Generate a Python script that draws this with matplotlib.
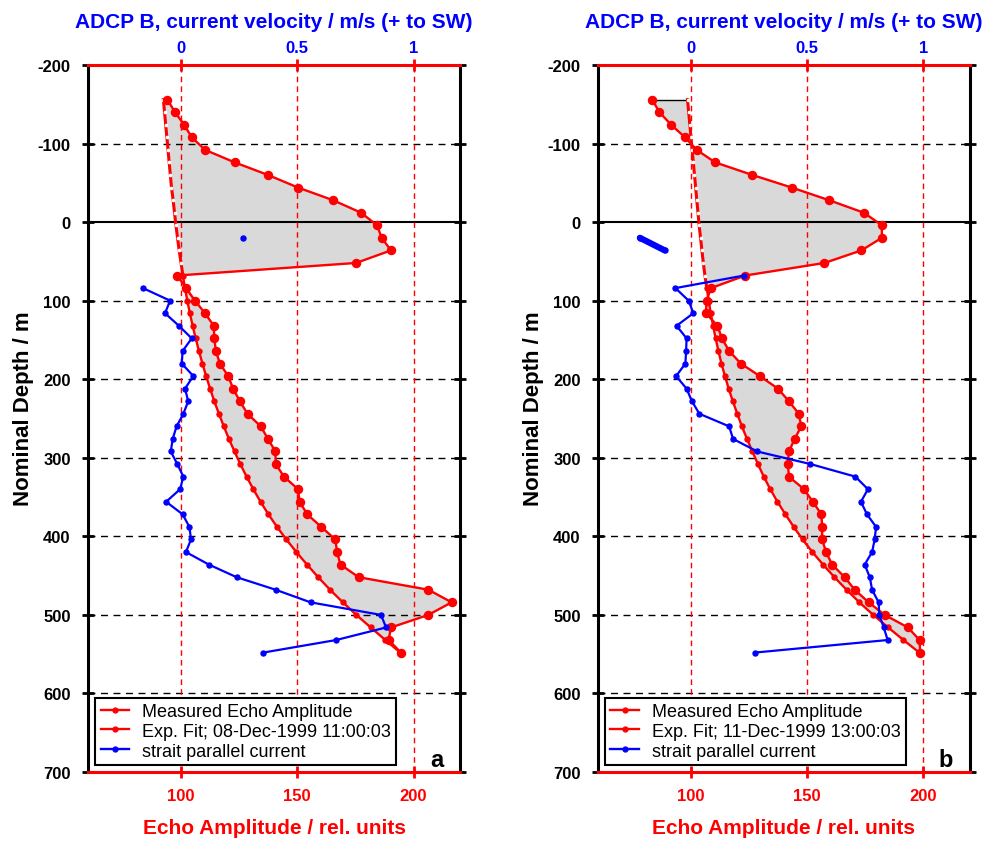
import matplotlib.pyplot as plt
from matplotlib.lines import Line2D

plt.rcParams['font.family'] = ['Liberation Sans', 'DejaVu Sans']
plt.rcParams['font.weight'] = 'bold'
plt.rcParams['axes.labelweight'] = 'bold'
plt.rcParams['axes.unicode_minus'] = False

nan = float('nan')

# depth bins / m
depth = [-156, -140, -124, -108, -92, -76, -60, -44, -28, -12,
         4, 20, 36, 52, 68, 84, 100, 116, 132, 148,
         164, 180, 196, 212, 228, 244, 260, 276, 292, 308,
         324, 340, 356, 372, 388, 404, 420, 436, 452, 468,
         484, 500, 516, 532, 548]

# panel a, 08-Dec-1999
amp_a = [94.1, 97.4, 101.3, 104.6, 110.3, 123.1, 137.4, 150.3, 165.3, 177.4,
         184.3, 186.3, 190.3, 175.3, 98.4, 102.1, 106.0, 110.3, 114.1, 114.3,
         115.0, 116.7, 120.3, 122.4, 125.3, 128.6, 134.3, 137.4, 140.6, 140.7,
         144.3, 150.3, 151.0, 154.3, 160.3, 166.4, 167.1, 168.6, 176.4, 206.4,
         216.4, 206.4, 190.3, 189.3, 194.6]
fit_a = [92.4, 92.9, 93.4, 93.9, 94.4, 94.9, 95.4, 95.9, 96.6, 97.2,
         97.8, 98.5, 99.2, 100.0, 100.8, 101.7, 102.7, 103.8, 105.0, 106.3,
         107.7, 109.2, 110.8, 112.5, 114.3, 116.3, 118.4, 120.6, 123.0, 125.5,
         128.2, 131.1, 134.2, 137.6, 141.3, 145.3, 149.6, 154.2, 159.0, 164.1,
         169.6, 175.4, 181.6, 187.9, 194.3]
vel_a = [nan, nan, nan, nan, nan, nan, nan, nan, nan, nan,
         nan, 0.267, nan, nan, nan, -0.164, -0.047, -0.069, -0.009, 0.046,
         0.007, 0.003, 0.053, 0.017, 0.031, 0.010, -0.019, -0.036, -0.044, -0.016,
         0.010, -0.004, -0.064, 0.007, 0.036, 0.043, 0.021, 0.120, 0.239, 0.407,
         0.557, 0.860, 0.882, 0.667, 0.353]

# panel b, 11-Dec-1999
amp_b = [83.3, 86.4, 91.4, 97.4, 102.4, 110.4, 126.4, 143.3, 159.3, 174.3,
         182.1, 182.1, 173.3, 157.4, 123.3, 108.6, 106.7, 106.4, 111.4, 113.3,
         116.4, 121.4, 129.6, 137.4, 142.1, 146.4, 147.4, 144.6, 142.1, 141.7,
         142.1, 148.6, 152.4, 156.1, 156.4, 156.4, 158.1, 160.7, 166.1, 170.4,
         176.4, 183.3, 193.3, 198.3, 198.6]
fit_b = [98.5, 99.0, 99.5, 100.0, 100.5, 101.0, 101.5, 102.0, 102.5, 103.0,
         103.5, 104.1, 104.7, 105.3, 106.0, 106.8, 107.6, 108.5, 109.5, 110.6,
         111.8, 113.1, 114.6, 116.2, 118.0, 119.9, 121.9, 124.1, 126.4, 128.8,
         131.3, 134.1, 137.2, 140.6, 144.2, 148.0, 152.2, 156.8, 161.7, 166.9,
         172.4, 178.4, 184.8, 191.4, 198.2]
vel_b = [nan, nan, nan, nan, nan, nan, nan, nan, nan, nan,
         nan, -0.220, -0.113, nan, 0.228, -0.067, -0.010, 0.010, -0.062, -0.019,
         -0.021, -0.024, -0.064, -0.019, 0.004, 0.036, 0.164, 0.181, 0.285, 0.514,
         0.707, 0.761, 0.731, 0.757, 0.796, 0.790, 0.779, 0.747, 0.769, 0.779,
         0.807, 0.810, 0.829, 0.846, 0.274]

dates = ['08-Dec-1999 11:00:03', '11-Dec-1999 13:00:03']
fit_start = [14, 15]   # first bin used for the fit, above it the fit is extrapolated
letters = ['a', 'b']

RED = '#ff0000'
BLUE = '#0000ff'
GREY = '#d9d9d9'


def panel(rect, amp, fit, vel, date, k0, letter):
    ax = fig.add_axes(rect)
    ax.set_xlim(60, 220)
    ax.set_ylim(700, -200)

    ax.fill_betweenx(depth, amp, fit, color=GREY, lw=0, zorder=1)
    for d in [-100, 100, 200, 300, 400, 500, 600]:
        ax.axhline(d, color='k', lw=1, ls=(0, (5, 4)), zorder=2)
    ax.axhline(0, color='k', lw=1.5, zorder=2)
    for x in [100, 150, 200]:
        ax.axvline(x, color=RED, lw=1, ls=(0, (4, 3)), zorder=2)
    ax.plot([amp[0], fit[0]], [depth[0], depth[0]], color='k', lw=1, zorder=3)

    # extrapolated fit (dashed look), fitted part solid
    ax.plot(fit[:k0 + 1], depth[:k0 + 1], color=RED, lw=2.2, marker='o', ms=2.6,
            mfc='white', mew=0, zorder=3)
    ax.plot(fit[k0:], depth[k0:], color=RED, lw=1.7, marker='o', ms=3.6, zorder=4)
    ax.plot(amp, depth, color=RED, lw=1.7, marker='o', ms=5.8, zorder=5)

    for s in ['left', 'right']:
        ax.spines[s].set_linewidth(2.2)
    for s in ['top', 'bottom']:
        ax.spines[s].set_linewidth(2.2)
        ax.spines[s].set_color(RED)

    ax.set_yticks(range(-200, 701, 100))
    ax.tick_params(axis='y', direction='inout', length=9, width=2, left=True,
                   right=True, labelsize=12, pad=8)
    ax.set_xticks([100, 150, 200])
    ax.tick_params(axis='x', direction='inout', length=9, width=2, color=RED,
                   labelcolor=RED, labelsize=12, pad=7)
    ax.set_xlabel('Echo Amplitude / rel. units', color=RED, fontsize=15,
                  fontweight='bold', labelpad=11)
    ax.set_ylabel('Nominal Depth / m', fontsize=16, fontweight='bold')
    ax.yaxis.set_label_coords(-0.146, 0.515)

    # velocity axis on top
    ax2 = ax.twiny()
    ax2.set_xlim(-0.4, 1.2)
    ax2.plot(vel, depth, color=BLUE, lw=1.6, marker='o', ms=3.6, zorder=6)
    ax2.plot(vel[11:13], depth[11:13], color=BLUE, lw=4.5, solid_capstyle='round', zorder=6)
    for s in ax2.spines.values():
        s.set_visible(False)
    ax2.set_xticks([0, 0.5, 1])
    ax2.set_xticklabels(['0', '0.5', '1'])
    ax2.tick_params(axis='x', direction='inout', length=9, width=2, color=RED,
                    labelcolor=BLUE, labelsize=12, pad=3)
    ax2.set_xlabel('ADCP B, current velocity / m/s (+ to SW)', color=BLUE,
                   fontsize=15, fontweight='bold', labelpad=9)

    handles = [Line2D([], [], color=RED, lw=1.7, marker='o', ms=3.5),
               Line2D([], [], color=RED, lw=1.7, marker='o', ms=3.5),
               Line2D([], [], color=BLUE, lw=1.7, marker='o', ms=3.5)]
    names = ['Measured Echo Amplitude', 'Exp. Fit; ' + date, 'strait parallel current']
    leg = ax2.legend(handles, names, loc='lower left', bbox_to_anchor=(0.019, 0.01),
                     borderaxespad=0, fancybox=False, framealpha=1, edgecolor='k',
                     prop={'size': 13, 'weight': 'normal'}, handlelength=1.6,
                     handletextpad=0.7, labelspacing=0.15, borderpad=0.3)
    leg.get_frame().set_linewidth(1.5)
    ax2.text(0.955, 0.008, letter, transform=ax2.transAxes, ha='right', va='baseline',
             fontsize=17)


fig = plt.figure(figsize=(9.97, 8.45), dpi=100)
panel([0.0883, 0.0852, 0.3731, 0.8367], amp_a, fit_a, vel_a, dates[0], fit_start[0], letters[0])
panel([0.5998, 0.0852, 0.3731, 0.8367], amp_b, fit_b, vel_b, dates[1], fit_start[1], letters[1])

plt.savefig('out.png', dpi=100)
